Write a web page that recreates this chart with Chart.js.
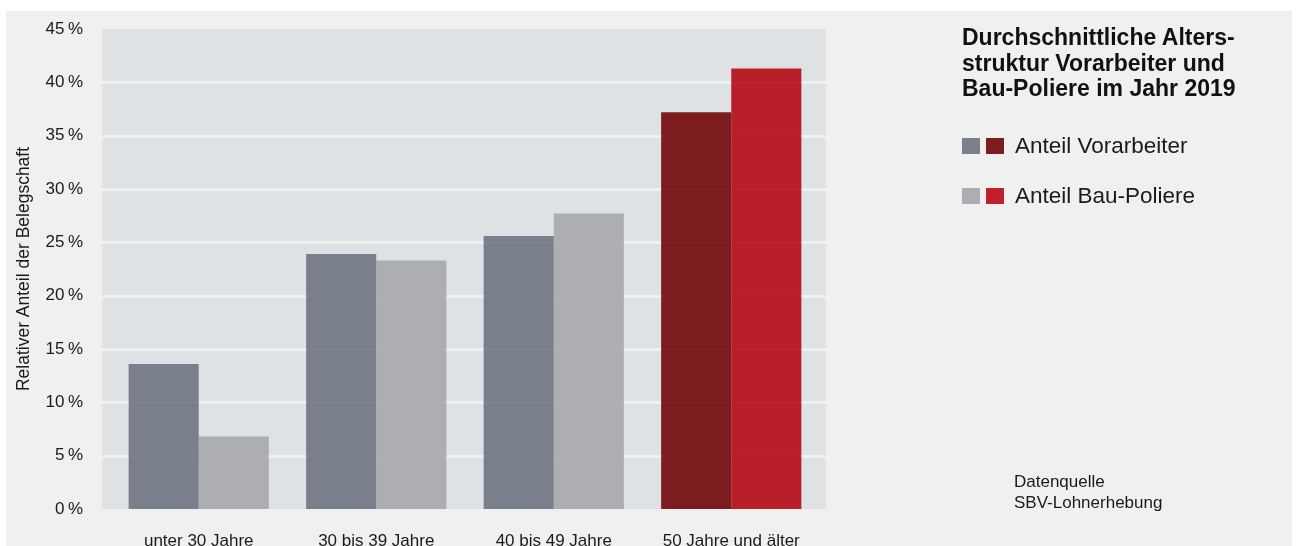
<!DOCTYPE html>
<html lang="de">
<head>
<meta charset="utf-8">
<title>Altersstruktur Vorarbeiter und Bau-Poliere 2019</title>
<script src="https://cdn.jsdelivr.net/npm/chart.js@4.4.1/dist/chart.umd.min.js"></script>
<style>
  html, body { margin: 0; padding: 0; background: #ffffff; }
  body { width: 1298px; height: 546px; position: relative; overflow: hidden;
         font-family: 'Liberation Sans', Arial, sans-serif; color: #1a1a1a; }
  #panel { position: absolute; left: 6px; top: 11px; width: 1286px; height: 535px; background: #f0f0f0; }
  #chart-wrap { position: absolute; left: 0; top: 0; width: 1298px; height: 546px; }
  #title { position: absolute; left: 962px; top: 25px; font-size: 23px; font-weight: bold;
           line-height: 25.5px; color: #111; white-space: nowrap; }
  .legend-row { position: absolute; left: 962px; height: 26px; display: flex; align-items: center;
                font-size: 22.5px; color: #1a1a1a; white-space: nowrap; }
  .sw { width: 18px; height: 16px; display: inline-block; margin-right: 6px; }
  .legend-row span.lbl { margin-left: 5px; }
  #source { position: absolute; left: 1014px; top: 472px; font-size: 17px; line-height: 20.5px;
            color: #1a1a1a; white-space: nowrap; }
</style>
</head>
<body>
<div id="panel"></div>
<div id="chart-wrap"><canvas id="age-chart" width="1298" height="546"></canvas></div>

<div id="title">Durchschnittliche Alters-<br>struktur Vorarbeiter und<br>Bau-Poliere im Jahr 2019</div>
<div class="legend-row" style="top:133px">
  <span class="sw" style="background:#7a808b"></span><span class="sw" style="background:#7d1d1f"></span><span class="lbl">Anteil Vorarbeiter</span>
</div>
<div class="legend-row" style="top:183px">
  <span class="sw" style="background:#acaeb2"></span><span class="sw" style="background:#c0202a"></span><span class="lbl">Anteil Bau-Poliere</span>
</div>
<div id="source">Datenquelle<br>SBV-Lohnerhebung</div>

<script>
/* ─── Data ─── */
const categories = ['unter 30 Jahre', '30 bis 39 Jahre', '40 bis 49 Jahre', '50 Jahre und älter'];
const vorarbeiter = [13.6, 23.9, 25.6, 37.2];
const poliere     = [6.8, 23.3, 27.7, 41.3];
const yTicks      = [0, 5, 10, 15, 20, 25, 30, 35, 40, 45];

/* last group is highlighted in red */
const VORARB_COLORS  = ['rgba(111,117,129,0.9)', 'rgba(111,117,129,0.9)', 'rgba(111,117,129,0.9)', 'rgba(114,7,9,0.9)'];
const POLIERE_COLORS = ['rgba(166,168,172,0.9)', 'rgba(166,168,172,0.9)', 'rgba(166,168,172,0.9)', 'rgba(181,10,20,0.9)'];

const PLOT_BG   = '#dfe2e5';
const GRID_LINE = '#eff0f1';
const FONT      = "'Liberation Sans', Arial, sans-serif";

/* plot background + grid lines, a bit wider than the chart area */
const plotBackground = {
  id: 'plotBackground',
  beforeDatasetsDraw(chart) {
    const { ctx, chartArea: a, scales: { y } } = chart;
    const left = a.left - 8, right = a.right + 6;
    ctx.save();
    ctx.fillStyle = PLOT_BG;
    ctx.fillRect(left, a.top, right - left, a.bottom - a.top);
    ctx.strokeStyle = GRID_LINE;
    ctx.lineWidth = 3;
    yTicks.forEach(v => {
      if (v === 0 || v === 45) return;
      const py = Math.round(y.getPixelForValue(v)) + 0.5;
      ctx.beginPath();
      ctx.moveTo(left, py);
      ctx.lineTo(right, py);
      ctx.stroke();
    });
    ctx.restore();
  },
};

new Chart(document.getElementById('age-chart'), {
  type: 'bar',
  data: {
    labels: categories,
    datasets: [
      { label: 'Anteil Vorarbeiter', data: vorarbeiter, backgroundColor: VORARB_COLORS, borderWidth: 0 },
      { label: 'Anteil Bau-Poliere', data: poliere, backgroundColor: POLIERE_COLORS, borderWidth: 0 },
    ],
  },
  options: {
    responsive: false,
    animation: false,
    layout: { padding: { left: 0, right: 478, top: 29, bottom: 0 } },
    datasets: { bar: { categoryPercentage: 0.79, barPercentage: 1.0 } },
    plugins: { legend: { display: false }, tooltip: { enabled: false } },
    scales: {
      x: {
        grid: { display: false, drawTicks: false },
        border: { display: false },
        ticks: { color: '#1a1a1a', padding: 22, font: { family: FONT, size: 17 } },
        afterFit: (s) => { s.height = 37; },
      },
      y: {
        min: 0,
        max: 45,
        afterBuildTicks: (s) => { s.ticks = yTicks.map(v => ({ value: v })); },
        grid: { display: false, drawTicks: false },
        border: { display: false },
        ticks: {
          color: '#1a1a1a',
          padding: 27,
          font: { family: FONT, size: 17 },
          callback: (v) => v + '\u2009%',
        },
        title: {
          display: true,
          text: 'Relativer Anteil der Belegschaft',
          color: '#1a1a1a',
          font: { family: FONT, size: 17.5 },
          padding: { top: 14, bottom: 0 },
        },
        /* fixed axis width; the big tick padding must not push the plot down */
        afterFit: (s) => { s.width = 110; s.paddingTop = 0; s.paddingBottom = 0; },
      },
    },
  },
  plugins: [plotBackground],
});
</script>
</body>
</html>
